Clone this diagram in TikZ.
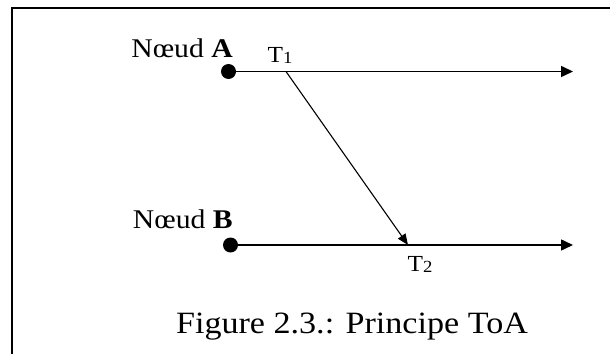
\documentclass[tikz,border=0pt]{standalone}
\usepackage{fontspec}
\setmainfont[FakeStretch=1.1]{Liberation Serif}
\usetikzlibrary{arrows.meta}
\begin{document}
\begin{tikzpicture}[x=1pt,y=1pt,
  dot/.style={circle,fill=black,inner sep=0pt,minimum size=15pt},
  lbl/.style={font=\fontsize{27}{29}\selectfont,inner sep=0pt,anchor=base east},
  tlbl/.style={font=\fontsize{23}{25}\selectfont,inner sep=0pt,anchor=base},
  axis/.style={line width=1.5pt,-{Triangle[length=12pt,width=11pt]}},
  msg/.style={line width=1.1pt,-{Triangle[length=11pt,width=9pt]}}]
\useasboundingbox (0,0) rectangle (610,354);
\draw[line width=2pt] (12,0) -- (12,346) -- (610,346);
\node[dot] (dA) at (228.5,282.5) {};
\node[dot] (dB) at (230.5,109) {};
\coordinate (eA) at (573,282.5);
\coordinate (eB) at (573,109);
\coordinate (t1) at (286,282.5);
\coordinate (t2) at (408,109);
\draw[axis] (dA.center) -- (eA);
\draw[axis] (dB.center) -- (eB);
\draw[msg] (t1) -- (t2);
\node[lbl] (nA) at (233,296) {Nœud \textbf{A}};
\node[lbl] (nB) at (233,126) {Nœud \textbf{B}};
\node[tlbl] (lt1) at (280,291) {T\raisebox{-1pt}{\fontsize{17}{19}\selectfont 1}};
\node[tlbl] (lt2) at (420,83) {T\raisebox{-1pt}{\fontsize{17}{19}\selectfont 2}};
\node[font=\fontsize{31}{33}\selectfont,inner sep=0pt,anchor=base] (cap) at (352,21) {Figure 2.3.: Principe ToA};
\end{tikzpicture}
\end{document}
